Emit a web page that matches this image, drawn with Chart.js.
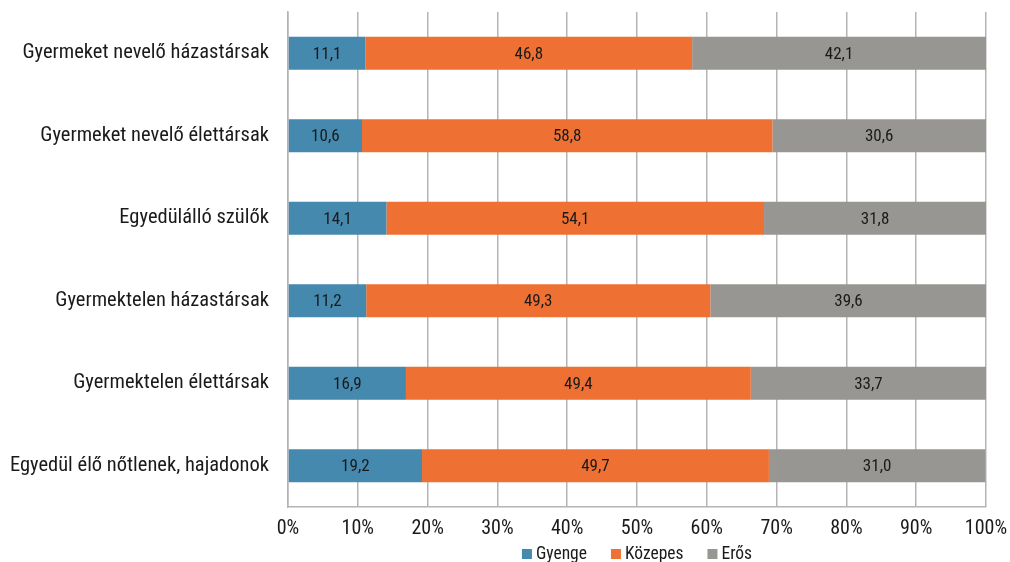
<!DOCTYPE html>
<html>
<head>
<meta charset="utf-8">
<script src="https://cdn.jsdelivr.net/npm/chart.js@4"></script>
<style>
  html, body { margin: 0; padding: 0; background: #fff; overflow: hidden; }
</style>
</head>
<body>
<canvas id="chart" width="1010" height="562"></canvas>
<script>
const categories = [
  "Gyermeket nevelő házastársak",
  "Gyermeket nevelő élettársak",
  "Egyedülálló szülők",
  "Gyermektelen házastársak",
  "Gyermektelen élettársak",
  "Egyedül élő nőtlenek, hajadonok"
];
const gyenge = [11.1, 10.6, 14.1, 11.2, 16.9, 19.2];
const kozepes = [46.8, 58.8, 54.1, 49.3, 49.4, 49.7];
const eros = [42.1, 30.6, 31.8, 39.6, 33.7, 31.0];
const seriesNames = ["Gyenge", "Közepes", "Erős"];
const seriesColors = ["#4589af", "#ee7133", "#979692"];
const xTicks = [0, 10, 20, 30, 40, 50, 60, 70, 80, 90, 100];

const FONT = '"Roboto Condensed", "Liberation Sans Narrow", Roboto, sans-serif';

// value in the middle of each bar segment
const barLabels = {
  id: 'barLabels',
  afterDatasetsDraw(chart) {
    const ctx = chart.ctx;
    ctx.save();
    ctx.font = '17px ' + FONT;
    ctx.fillStyle = '#1a1a1a';
    ctx.textAlign = 'center';
    ctx.textBaseline = 'middle';
    chart.data.datasets.forEach((ds, i) => {
      chart.getDatasetMeta(i).data.forEach((bar, j) => {
        const p = bar.getProps(['x', 'y', 'base'], true);
        ctx.fillText(ds.data[j].toFixed(1).replace('.', ','), (p.x + p.base) / 2, p.y + 1);
      });
    });
    ctx.restore();
  }
};

// legend drawn by hand: small square, tight gap to text, wide gap between items
const bottomLegend = {
  id: 'bottomLegend',
  afterDraw(chart) {
    const ctx = chart.ctx;
    const area = chart.chartArea;
    ctx.save();
    ctx.font = '17.5px ' + FONT;
    ctx.textBaseline = 'middle';
    ctx.textAlign = 'left';
    const box = 10, gapText = 4, gapItem = 24;
    const widths = chart.data.datasets.map(ds => box + gapText + ctx.measureText(ds.label).width);
    const total = widths.reduce((a, b) => a + b, 0) + gapItem * (widths.length - 1);
    let x = (area.left + area.right) / 2 - total / 2;
    const y = 554;
    chart.data.datasets.forEach((ds, i) => {
      ctx.fillStyle = ds.backgroundColor;
      ctx.fillRect(x, y - 5, box, box);
      ctx.fillStyle = '#1a1a1a';
      ctx.fillText(ds.label, x + box + gapText, y + 1);
      x += widths[i] + gapItem;
    });
    ctx.restore();
  }
};

new Chart(document.getElementById('chart'), {
  type: 'bar',
  data: {
    labels: categories,
    datasets: [
      { label: seriesNames[0], data: gyenge, backgroundColor: seriesColors[0] },
      { label: seriesNames[1], data: kozepes, backgroundColor: seriesColors[1] },
      { label: seriesNames[2], data: eros, backgroundColor: seriesColors[2] }
    ]
  },
  options: {
    indexAxis: 'y',
    responsive: false,
    animation: false,
    devicePixelRatio: 1,
    layout: { padding: { top: 12, right: 24, bottom: 11, left: 0 } },
    datasets: { bar: { barPercentage: 0.4, categoryPercentage: 1.0, borderWidth: 0 } },
    scales: {
      x: {
        stacked: true,
        min: 0,
        max: 100,
        afterBuildTicks: axis => { axis.ticks = xTicks.map(v => ({ value: v })); },
        afterFit: scale => {
          scale.paddingLeft = 0;
          scale.paddingRight = 0;
        },
        ticks: {
          callback: v => v + '%',
          font: { family: FONT, size: 20 },
          color: '#1a1a1a',
          padding: 10,
          maxRotation: 0
        },
        grid: { color: '#b4b4b4', lineWidth: 1.5, drawTicks: false },
        border: { color: '#b4b4b4', width: 1.5 }
      },
      y: {
        stacked: true,
        afterFit: scale => {
          scale.width = 288;
          scale.paddingTop = 0;
          scale.paddingBottom = 0;
        },
        ticks: {
          font: { family: FONT, size: 20.5 },
          color: '#1a1a1a',
          padding: 19
        },
        grid: { display: false, drawTicks: false },
        border: { color: '#b4b4b4', width: 1.5 }
      }
    },
    plugins: {
      legend: { display: false },
      tooltip: { enabled: false }
    }
  },
  plugins: [barLabels, bottomLegend]
});
</script>
</body>
</html>
